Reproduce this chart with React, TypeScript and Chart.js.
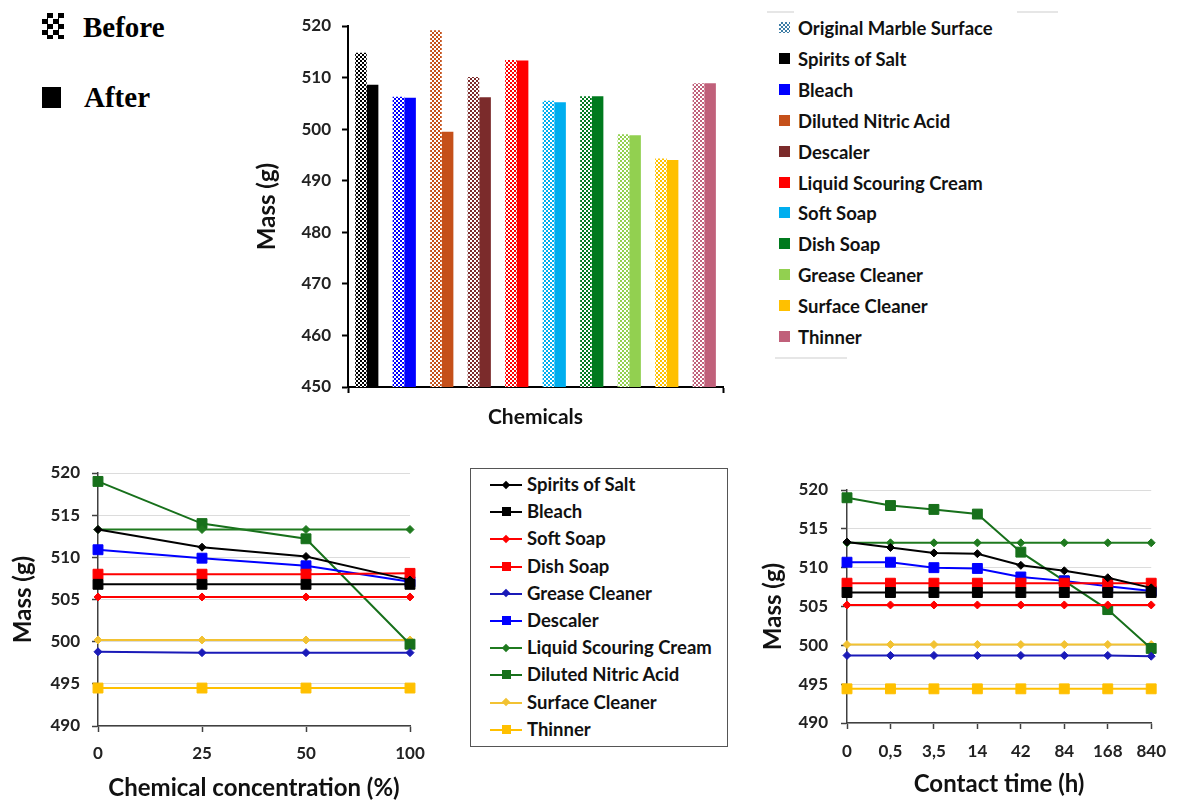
import React, { useEffect, useRef } from 'react';
import { Chart, registerables } from 'chart.js';

Chart.register(...registerables);

const FONT = 'Lato, "Open Sans", "DejaVu Sans", sans-serif';

// ---------------- Bar chart data (mass before / after) ----------------
const chemicals = [
  'Spirits of Salt', 'Bleach', 'Diluted Nitric Acid', 'Descaler', 'Liquid Scouring Cream',
  'Soft Soap', 'Dish Soap', 'Grease Cleaner', 'Surface Cleaner', 'Thinner',
];
const massBefore = [514.8, 506.3, 519.2, 510.1, 513.4, 505.5, 506.4, 499.0, 494.3, 508.9];
const massAfter = [508.6, 506.1, 499.5, 506.2, 513.3, 505.2, 506.4, 498.8, 494.0, 508.9];
const barColors = ['#000000', '#0000FF', '#C5501A', '#7B2B2B', '#FF0000', '#00AEEF', '#007A1E', '#92D050', '#FFC000', '#C0607A'];
const barLegendLabels = ['Original Marble Surface', ...chemicals];
const barAxisMin = 450;
const barAxisMax = 520;
const barAxisStep = 10;

// ---------------- Line charts ----------------
const concentrationLabels = ['0', '25', '50', '100'];
const contactTimeLabels = ['0', '0,5', '3,5', '14', '42', '84', '168', '840'];
const lineAxisMin = 490;
const lineAxisMax = 520;
const lineAxisStep = 5;

const seriesNames = [
  'Spirits of Salt', 'Bleach', 'Soft Soap', 'Dish Soap', 'Grease Cleaner',
  'Descaler', 'Liquid Scouring Cream', 'Diluted Nitric Acid', 'Surface Cleaner', 'Thinner',
];
const seriesColors = ['#000000', '#000000', '#FF0000', '#FF0000', '#1A1AB8', '#0000FF', '#1F7A1F', '#17701B', '#F2C232', '#FFC000'];
const seriesMarkers = ['rectRot', 'rect', 'rectRot', 'rect', 'rectRot', 'rect', 'rectRot', 'rect', 'rectRot', 'rect'];

// concentration (%) series
const concSpiritsOfSalt = [513.3, 511.2, 510.1, 507.3];
const concBleach = [506.8, 506.8, 506.8, 506.8];
const concSoftSoap = [505.3, 505.3, 505.3, 505.3];
const concDishSoap = [508.0, 508.0, 508.0, 508.1];
const concGreaseCleaner = [498.8, 498.7, 498.7, 498.7];
const concDescaler = [510.9, 509.9, 509.0, 507.1];
const concLiquidScouringCream = [513.3, 513.3, 513.3, 513.3];
const concDilutedNitricAcid = [519.0, 514.0, 512.2, 499.7];
const concSurfaceCleaner = [500.2, 500.2, 500.2, 500.2];
const concThinner = [494.5, 494.5, 494.5, 494.5];

// contact time (h) series
const timeSpiritsOfSalt = [513.3, 512.6, 511.9, 511.8, 510.3, 509.6, 508.7, 507.4];
const timeBleach = [506.8, 506.8, 506.8, 506.8, 506.8, 506.8, 506.8, 506.8];
const timeSoftSoap = [505.2, 505.2, 505.2, 505.2, 505.2, 505.2, 505.2, 505.2];
const timeDishSoap = [508.0, 508.0, 508.0, 508.0, 508.0, 508.0, 508.0, 508.0];
const timeGreaseCleaner = [498.7, 498.7, 498.7, 498.7, 498.7, 498.7, 498.7, 498.6];
const timeDescaler = [510.7, 510.7, 510.0, 509.9, 508.8, 508.3, 507.6, 507.0];
const timeLiquidScouringCream = [513.2, 513.2, 513.2, 513.2, 513.2, 513.2, 513.2, 513.2];
const timeDilutedNitricAcid = [519.0, 518.0, 517.5, 516.9, 512.0, 508.3, 504.6, 499.6];
const timeSurfaceCleaner = [500.1, 500.1, 500.1, 500.1, 500.1, 500.1, 500.1, 500.1];
const timeThinner = [494.4, 494.4, 494.4, 494.4, 494.4, 494.4, 494.4, 494.4];

const concSeries = [
  concSpiritsOfSalt, concBleach, concSoftSoap, concDishSoap, concGreaseCleaner,
  concDescaler, concLiquidScouringCream, concDilutedNitricAcid, concSurfaceCleaner, concThinner,
];
const timeSeries = [
  timeSpiritsOfSalt, timeBleach, timeSoftSoap, timeDishSoap, timeGreaseCleaner,
  timeDescaler, timeLiquidScouringCream, timeDilutedNitricAcid, timeSurfaceCleaner, timeThinner,
];

function checker(color: string): CanvasPattern | string {
  const c = document.createElement('canvas');
  c.width = 4;
  c.height = 4;
  const g = c.getContext('2d');
  if (!g) return color;
  g.fillStyle = '#ffffff';
  g.fillRect(0, 0, 4, 4);
  g.fillStyle = color;
  g.fillRect(0, 0, 2, 2);
  g.fillRect(2, 2, 2, 2);
  return g.createPattern(c, 'repeat') || color;
}

const tickFont = { family: FONT, weight: 'bold' as const, size: 17 };

function BarChart() {
  const ref = useRef<HTMLCanvasElement>(null);
  useEffect(() => {
    if (!ref.current) return;
    const chart = new Chart(ref.current, {
      type: 'bar',
      data: {
        labels: chemicals,
        datasets: [
          {
            label: 'Before',
            data: massBefore,
            backgroundColor: barColors.map((c) => checker(c)) as any,
            borderWidth: 0,
            categoryPercentage: 0.62,
            barPercentage: 1.0,
          },
          {
            label: 'After',
            data: massAfter,
            backgroundColor: barColors,
            borderWidth: 0,
            categoryPercentage: 0.62,
            barPercentage: 1.0,
          },
        ],
      },
      options: {
        animation: false,
        responsive: false,
        devicePixelRatio: 1,
        layout: { padding: { top: 26, left: 9, right: 17, bottom: 6 } },
        plugins: { legend: { display: false }, tooltip: { enabled: false } },
        scales: {
          x: {
            ticks: { display: false },
            grid: {
              display: true,
              drawOnChartArea: false,
              drawTicks: true,
              tickLength: 6,
              tickWidth: 2,
              offset: true,
              tickColor: (ctx: any) => (ctx.index === 0 || ctx.tick === undefined ? '#000' : 'rgba(0,0,0,0)'),
            },
            border: { display: true, color: '#000', width: 2 },
            title: {
              display: true,
              text: 'Chemicals',
              color: '#111',
              font: { family: FONT, weight: 'bold', size: 21 },
              padding: { top: 4, bottom: 4 },
            },
            afterFit: (s: any) => {
              s.height = 47;
            },
          },
          y: {
            min: barAxisMin,
            max: barAxisMax,
            ticks: { stepSize: barAxisStep, color: '#222', font: tickFont, padding: 11 },
            grid: {
              display: true,
              drawOnChartArea: false,
              drawTicks: true,
              tickLength: 6,
              tickWidth: 2,
              tickColor: '#000',
            },
            border: { display: true, color: '#000', width: 2 },
            title: {
              display: true,
              text: 'Mass (g)',
              color: '#111',
              font: { family: FONT, weight: 'bold', size: 24 },
              padding: { top: 4, bottom: 4 },
            },
            afterFit: (s: any) => {
              s.width = 99;
            },
          },
        },
      },
    } as any);
    return () => chart.destroy();
  }, []);
  return (
    <canvas
      ref={ref}
      width={500}
      height={440}
      style={{ position: 'absolute', left: 240, top: 0, width: 500, height: 440, display: 'block' }}
    />
  );
}

type LineGeo = {
  left: number;
  top: number;
  width: number;
  height: number;
  padding: { top: number; left: number; right: number; bottom: number };
  yWidth: number;
  xHeight: number;
  yPad: number;
  xPad: number;
};

function LineChart(props: { labels: string[]; series: number[][]; xTitle: string; geo: LineGeo }) {
  const ref = useRef<HTMLCanvasElement>(null);
  const { labels, series, xTitle, geo } = props;
  useEffect(() => {
    if (!ref.current) return;
    const chart = new Chart(ref.current, {
      type: 'line',
      data: {
        labels,
        datasets: series.map((d, i) => ({
          label: seriesNames[i],
          data: d,
          borderColor: seriesColors[i],
          backgroundColor: seriesColors[i],
          pointBackgroundColor: seriesColors[i],
          pointBorderColor: seriesColors[i],
          pointStyle: seriesMarkers[i],
          pointRadius: seriesMarkers[i] === 'rect' ? 7 : 4,
          pointBorderWidth: 1,
          borderWidth: 2,
          tension: 0,
          fill: false,
          clip: false,
        })),
      },
      options: {
        animation: false,
        responsive: false,
        devicePixelRatio: 1,
        layout: { padding: geo.padding },
        plugins: { legend: { display: false }, tooltip: { enabled: false } },
        scales: {
          x: {
            offset: false,
            ticks: { color: '#222', font: tickFont, padding: geo.xPad, maxRotation: 0, autoSkip: false },
            grid: {
              display: true,
              drawOnChartArea: false,
              drawTicks: true,
              tickLength: 6,
              tickWidth: 1.5,
              tickColor: '#404040',
            },
            border: { display: true, color: '#404040', width: 1.5 },
            title: {
              display: true,
              text: xTitle,
              color: '#111',
              font: { family: FONT, weight: 'bold', size: 24 },
              padding: { top: 4, bottom: 0 },
            },
            afterFit: (s: any) => {
              s.height = geo.xHeight;
            },
          },
          y: {
            min: lineAxisMin,
            max: lineAxisMax,
            ticks: { stepSize: lineAxisStep, color: '#222', font: tickFont, padding: geo.yPad },
            grid: {
              display: true,
              drawOnChartArea: true,
              drawTicks: true,
              tickLength: 6,
              color: '#dcdcdc',
              lineWidth: 1,
              tickColor: '#404040',
              tickWidth: 1.5,
            },
            border: { display: true, color: '#404040', width: 1.5 },
            title: {
              display: true,
              text: 'Mass (g)',
              color: '#111',
              font: { family: FONT, weight: 'bold', size: 24 },
              padding: { top: 4, bottom: 4 },
            },
            afterFit: (s: any) => {
              s.width = geo.yWidth;
            },
          },
        },
      },
    } as any);
    return () => chart.destroy();
  }, []);
  return (
    <canvas
      ref={ref}
      width={geo.width}
      height={geo.height}
      style={{ position: 'absolute', left: geo.left, top: geo.top, width: geo.width, height: geo.height, display: 'block' }}
    />
  );
}

const legendText: React.CSSProperties = {
  fontFamily: FONT,
  fontWeight: 700,
  fontSize: 18.5,
  color: '#111',
  whiteSpace: 'nowrap',
  lineHeight: '22px',
};

function BeforeAfterLegend() {
  const serif = '"Liberation Serif", "Times New Roman", serif';
  return (
    <>
      <div
        style={{
          position: 'absolute',
          left: 42,
          top: 13,
          width: 22,
          height: 26,
          background: 'repeating-conic-gradient(#000 0% 25%, #fff 0% 50%) 0 0 / 11px 11px',
        }}
      />
      <div style={{ position: 'absolute', left: 83, top: 9, fontFamily: serif, fontWeight: 700, fontSize: 29, lineHeight: '36px', color: '#000' }}>
        Before
      </div>
      <div style={{ position: 'absolute', left: 42, top: 87, width: 19, height: 21, background: '#000' }} />
      <div style={{ position: 'absolute', left: 84, top: 79, fontFamily: serif, fontWeight: 700, fontSize: 29, lineHeight: '36px', color: '#000' }}>
        After
      </div>
    </>
  );
}

function BarLegend() {
  const colors = ['pattern', ...barColors];
  return (
    <>
      <div style={{ position: 'absolute', left: 767, top: 11, width: 27, height: 2, background: '#e6e6e6' }} />
      <div style={{ position: 'absolute', left: 1017, top: 11, width: 41, height: 2, background: '#e6e6e6' }} />
      <div style={{ position: 'absolute', left: 775, top: 357, width: 72, height: 2, background: '#e6e6e6' }} />
      {barLegendLabels.map((name, i) => {
        const cy = 28 + i * 30.9;
        const c = colors[i];
        return (
          <React.Fragment key={name}>
            <div
              style={{
                position: 'absolute',
                left: 779,
                top: cy - 6,
                width: 11,
                height: 11,
                background:
                  c === 'pattern'
                    ? 'repeating-conic-gradient(#3f7ea6 0% 25%, #ffffff 0% 50%) 0 0 / 4px 4px'
                    : c,
              }}
            />
            <div style={{ ...legendText, position: 'absolute', left: 798, top: cy - 11 }}>{name}</div>
          </React.Fragment>
        );
      })}
    </>
  );
}

function LineLegend() {
  return (
    <div
      style={{
        position: 'absolute',
        left: 470,
        top: 468,
        width: 256,
        height: 277,
        border: '1.5px solid #555',
        background: '#fff',
      }}
    >
      {seriesNames.map((name, i) => {
        const cy = 16 + i * 27.2;
        const col = seriesColors[i];
        const isSquare = seriesMarkers[i] === 'rect';
        return (
          <React.Fragment key={name}>
            <div style={{ position: 'absolute', left: 19, top: cy - 1, width: 32, height: 2, background: col }} />
            {isSquare ? (
              <div style={{ position: 'absolute', left: 31, top: cy - 5, width: 9, height: 9, background: col }} />
            ) : (
              <div
                style={{
                  position: 'absolute',
                  left: 32,
                  top: cy - 3.5,
                  width: 6,
                  height: 6,
                  background: col,
                  transform: 'rotate(45deg)',
                }}
              />
            )}
            <div style={{ ...legendText, position: 'absolute', left: 56, top: cy - 12 }}>{name}</div>
          </React.Fragment>
        );
      })}
    </div>
  );
}

const concGeo: LineGeo = {
  left: 0,
  top: 440,
  width: 460,
  height: 363,
  padding: { top: 33, left: 5, right: 50, bottom: 0 },
  yWidth: 93,
  xHeight: 77,
  yPad: 12,
  xPad: 11,
};

const timeGeo: LineGeo = {
  left: 740,
  top: 440,
  width: 438,
  height: 363,
  padding: { top: 50, left: 15, right: 19, bottom: 4 },
  yWidth: 92,
  xHeight: 76,
  yPad: 13,
  xPad: 12,
};

export default function App() {
  return (
    <div style={{ position: 'absolute', left: 0, top: 0, width: 1178, height: 803, background: '#fff', overflow: 'hidden' }}>
      <BeforeAfterLegend />
      <BarChart />
      <BarLegend />
      <LineChart labels={concentrationLabels} series={concSeries} xTitle="Chemical concentration (%)" geo={concGeo} />
      <LineLegend />
      <LineChart labels={contactTimeLabels} series={timeSeries} xTitle="Contact time (h)" geo={timeGeo} />
    </div>
  );
}
